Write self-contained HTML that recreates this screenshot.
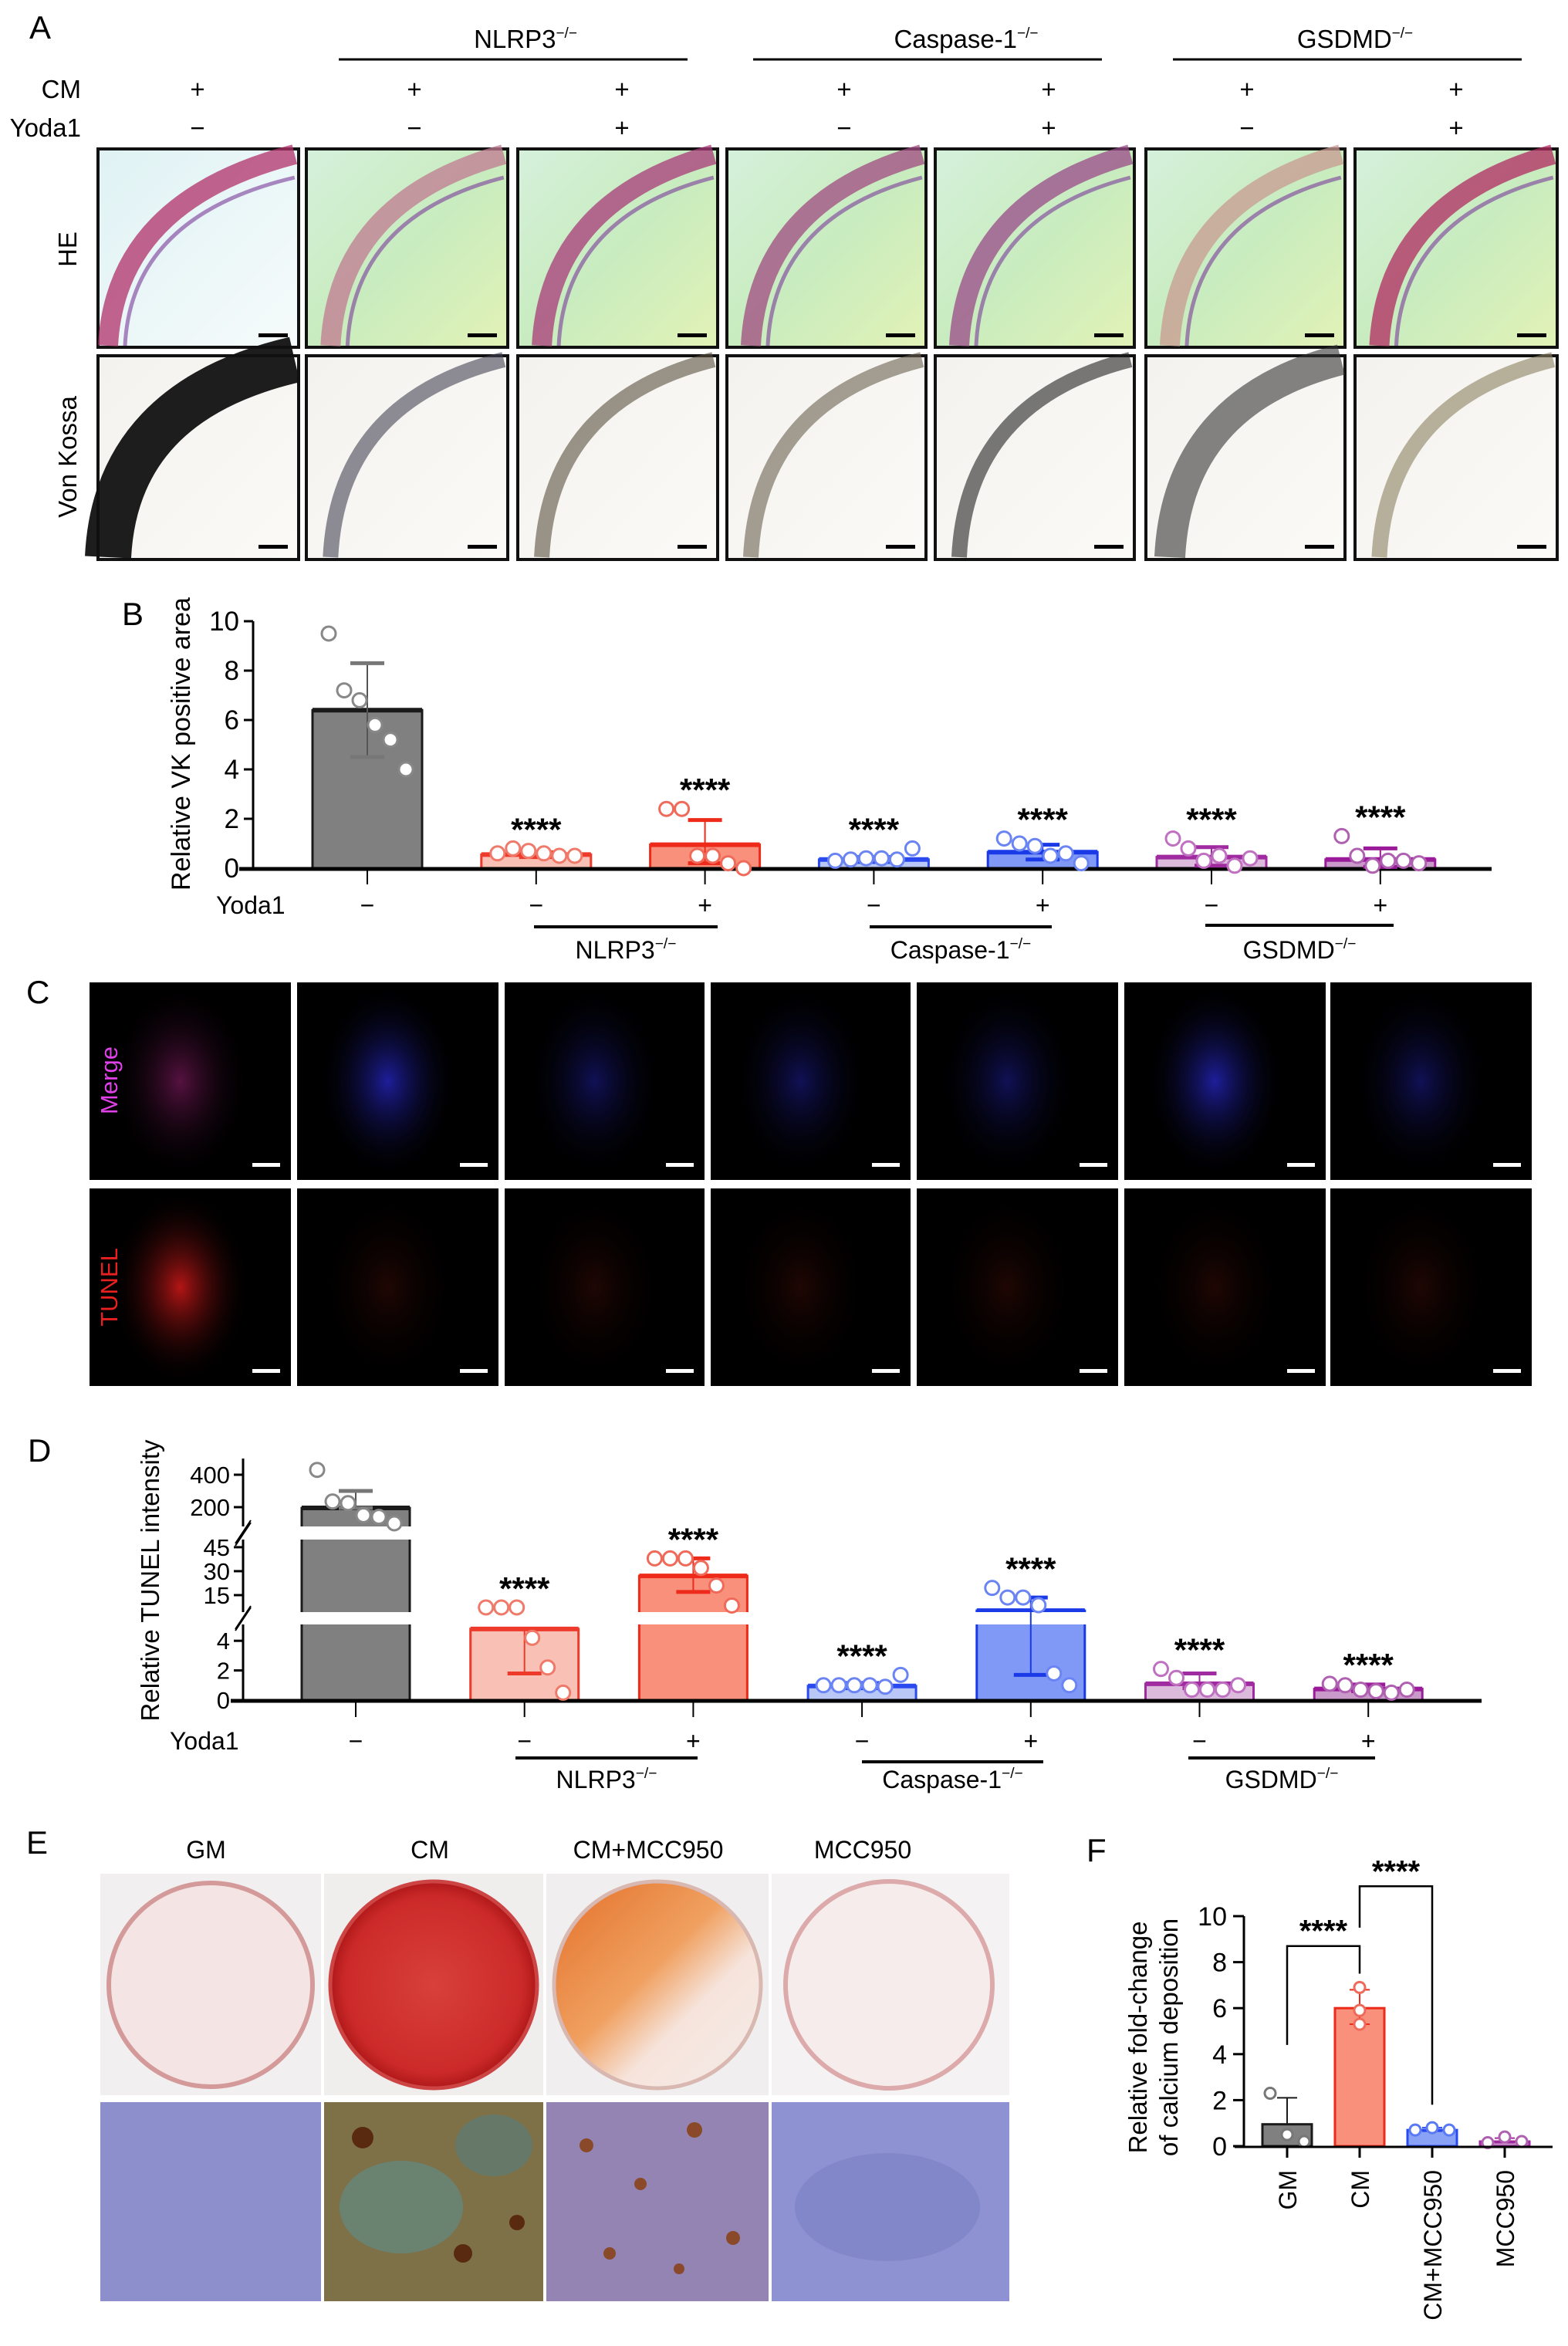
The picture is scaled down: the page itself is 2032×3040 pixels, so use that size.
<!DOCTYPE html>
<html><head><meta charset="utf-8"><title>Figure</title>
<style>
html,body{margin:0;padding:0;background:#fff;}
svg{display:block;font-family:"Liberation Sans",Arial,sans-serif;}
</style></head>
<body>
<svg id="fig" width="2032" height="3040" viewBox="0 0 2032 3040" xmlns="http://www.w3.org/2000/svg">
<defs>
  <linearGradient id="heBg" x1="0" y1="0" x2="1" y2="1">
    <stop offset="0" stop-color="#d6f0dc"/><stop offset="0.5" stop-color="#c8ecbf"/><stop offset="1" stop-color="#e2f2b6"/>
  </linearGradient>
  <linearGradient id="heBg1" x1="0" y1="0" x2="1" y2="1">
    <stop offset="0" stop-color="#dff2f4"/><stop offset="1" stop-color="#f6fbfb"/>
  </linearGradient>
  <linearGradient id="vkBg" x1="0" y1="0" x2="1" y2="1">
    <stop offset="0" stop-color="#f4f2ee"/><stop offset="1" stop-color="#fbfaf6"/>
  </linearGradient>
  <radialGradient id="blueGlow" cx="0.5" cy="0.5" r="0.5">
    <stop offset="0" stop-color="#2a2ad8" stop-opacity="0.8"/><stop offset="1" stop-color="#000" stop-opacity="0"/>
  </radialGradient>
  <radialGradient id="magGlow" cx="0.5" cy="0.5" r="0.5">
    <stop offset="0" stop-color="#c02890" stop-opacity="0.9"/><stop offset="1" stop-color="#000" stop-opacity="0"/>
  </radialGradient>
  <radialGradient id="redGlow" cx="0.5" cy="0.5" r="0.5">
    <stop offset="0" stop-color="#c81818" stop-opacity="0.9"/><stop offset="1" stop-color="#000" stop-opacity="0"/>
  </radialGradient>
  <radialGradient id="dimRed" cx="0.5" cy="0.5" r="0.5">
    <stop offset="0" stop-color="#4a1008" stop-opacity="0.7"/><stop offset="1" stop-color="#000" stop-opacity="0"/>
  </radialGradient>
  <radialGradient id="dishRed" cx="0.5" cy="0.5" r="0.5">
    <stop offset="0" stop-color="#d8403a"/><stop offset="0.85" stop-color="#cc2a2a"/><stop offset="1" stop-color="#b01818"/>
  </radialGradient>
  <linearGradient id="dishOr" x1="0" y1="0" x2="1" y2="1">
    <stop offset="0" stop-color="#e4702a"/><stop offset="0.45" stop-color="#f0a060"/><stop offset="0.65" stop-color="#f6e4dc"/><stop offset="1" stop-color="#f4ece8"/>
  </linearGradient>
</defs>

<!-- ================= PANEL A ================= -->
<g>
  <text x="38" y="50" font-size="42">A</text>
  <g font-size="33" text-anchor="middle">
    <text x="681" y="62">NLRP3<tspan font-size="19" dy="-13">−/−</tspan></text>
    <line x1="439" y1="77" x2="891" y2="77" stroke="#000" stroke-width="3"/>
    <text x="1252" y="62">Caspase-1<tspan font-size="19" dy="-13">−/−</tspan></text>
    <line x1="976" y1="77" x2="1428" y2="77" stroke="#000" stroke-width="3"/>
    <text x="1756" y="62">GSDMD<tspan font-size="19" dy="-13">−/−</tspan></text>
    <line x1="1520" y1="77" x2="1972" y2="77" stroke="#000" stroke-width="3"/>
  </g>
  <g font-size="33">
    <text x="105" y="127" text-anchor="end">CM</text>
    <text x="105" y="177" text-anchor="end">Yoda1</text>
  </g>
  <g id="aSigns" font-size="33" text-anchor="middle"></g>
  <text transform="translate(99,323) rotate(-90)" font-size="33" text-anchor="middle">HE</text>
  <text transform="translate(99,592) rotate(-90)" font-size="33" text-anchor="middle">Von Kossa</text>
  <g id="aImgs"></g>
</g>

<!-- ================= PANEL B ================= -->
<g>
  <text x="158" y="810" font-size="42">B</text>
  <text transform="translate(246,964) rotate(-90)" font-size="34" text-anchor="middle">Relative VK positive area</text>
  <g id="bChart"></g>
</g>

<!-- ================= PANEL C ================= -->
<g>
  <text x="34" y="1300" font-size="42">C</text>
  <g id="cImgs"></g>
</g>

<!-- ================= PANEL D ================= -->
<g>
  <text x="36" y="1894" font-size="42">D</text>
  <text transform="translate(206,2048) rotate(-90)" font-size="33" text-anchor="middle">Relative TUNEL intensity</text>
  <g id="dChart"></g>
</g>

<!-- ================= PANEL E ================= -->
<g>
  <text x="34" y="2402" font-size="42">E</text>
  <g font-size="32" text-anchor="middle">
    <text x="267" y="2408">GM</text>
    <text x="557" y="2408">CM</text>
    <text x="840" y="2408">CM+MCC950</text>
    <text x="1118" y="2408">MCC950</text>
  </g>
  <g>
    <rect x="130" y="2428" width="286" height="287" fill="#f1efef"/>
    <circle cx="273" cy="2572" r="132" fill="#f4e4e4" stroke="#d49a9a" stroke-width="6"/>
    <rect x="420" y="2428" width="284" height="287" fill="#f0eded"/>
    <circle cx="562" cy="2572" r="134" fill="url(#dishRed)" stroke="#c44" stroke-width="5"/>
    <rect x="708" y="2428" width="288" height="287" fill="#f0eeee"/>
    <circle cx="852" cy="2572" r="134" fill="url(#dishOr)" stroke="#d8b8b0" stroke-width="5"/>
    <rect x="1000" y="2428" width="308" height="287" fill="#f4f2f2"/>
    <circle cx="1152" cy="2572" r="134" fill="#f6ecec" stroke="#dcaaaa" stroke-width="6"/>
  </g>
  <g>
    <rect x="130" y="2724" width="286" height="258" fill="#8c8fcc"/>
    <rect x="420" y="2724" width="284" height="258" fill="#7e7148"/>
    <ellipse cx="520" cy="2860" rx="80" ry="60" fill="#5c8f8c" opacity="0.6"/>
    <ellipse cx="640" cy="2780" rx="50" ry="40" fill="#4e7f86" opacity="0.5"/>
    <circle cx="470" cy="2770" r="14" fill="#5a2a10"/><circle cx="600" cy="2920" r="12" fill="#5a2a10"/><circle cx="670" cy="2880" r="10" fill="#5a2a10"/>
    <rect x="708" y="2724" width="288" height="258" fill="#9484b4"/>
    <circle cx="760" cy="2780" r="9" fill="#8a4a2a"/><circle cx="830" cy="2830" r="8" fill="#8a4a2a"/><circle cx="900" cy="2760" r="10" fill="#8a4a2a"/><circle cx="950" cy="2900" r="9" fill="#8a4a2a"/><circle cx="790" cy="2920" r="8" fill="#8a4a2a"/><circle cx="880" cy="2940" r="7" fill="#8a4a2a"/>
    <rect x="1000" y="2724" width="308" height="258" fill="#8e92d2"/>
    <ellipse cx="1150" cy="2860" rx="120" ry="70" fill="#7a80c4" opacity="0.6"/>
  </g>
</g>

<!-- ================= PANEL F ================= -->
<g>
  <text x="1408" y="2412" font-size="42">F</text>
  <text transform="translate(1486,2640) rotate(-90)" font-size="33" text-anchor="middle">Relative fold-change</text>
  <text transform="translate(1526,2640) rotate(-90)" font-size="33" text-anchor="middle">of calcium deposition</text>
  <g id="fChart"></g>
</g>
</svg>

<script>
// ---------- chart data (B) ----------
const bCategories = ['WT', 'NLRP3 -', 'NLRP3 +', 'Caspase-1 -', 'Caspase-1 +', 'GSDMD -', 'GSDMD +'];
const bYoda = ['−', '−', '+', '−', '+', '−', '+'];
const bMeans = [6.4, 0.55, 0.95, 0.35, 0.65, 0.45, 0.35];
const bErrLow = [4.5, 0.45, 0.2, 0.25, 0.35, 0.1, 0.05];
const bErrHigh = [8.3, 0.65, 1.95, 0.45, 0.95, 0.85, 0.8];
const bPoints = [
  [9.5, 7.2, 6.8, 5.8, 5.2, 4.0],
  [0.6, 0.8, 0.7, 0.6, 0.5, 0.5],
  [2.4, 2.4, 0.5, 0.5, 0.2, 0.0],
  [0.3, 0.35, 0.4, 0.4, 0.35, 0.8],
  [1.2, 1.0, 0.9, 0.5, 0.6, 0.2],
  [1.2, 0.8, 0.3, 0.5, 0.1, 0.4],
  [1.3, 0.5, 0.1, 0.3, 0.3, 0.2]
];
const bStars = ['', '****', '****', '****', '****', '****', '****'];
const bTicks = [0, 2, 4, 6, 8, 10];

// ---------- chart data (D) ----------
const dCategories = ['WT', 'NLRP3 -', 'NLRP3 +', 'Caspase-1 -', 'Caspase-1 +', 'GSDMD -', 'GSDMD +'];
const dYoda = ['−', '−', '+', '−', '+', '−', '+'];
const dMeans = [195, 4.8, 27, 0.95, 5.3, 1.1, 0.75];
const dErrLow = [195, 1.8, 17, 0.8, 1.7, 0.8, 0.6];
const dErrHigh = [300, 4.8, 38, 1.15, 13.5, 1.8, 1.05];
const dPoints = [
  [430, 235, 225, 150, 140, 100],
  [7.3, 7.3, 7.3, 4.2, 2.2, 0.5],
  [38, 38, 38, 32, 21, 8.5],
  [1.0, 1.0, 1.0, 1.0, 0.9, 1.7],
  [19.5, 13.5, 13.5, 8.7, 1.8, 1.0],
  [2.1, 1.5, 0.7, 0.7, 0.7, 1.0],
  [1.1, 1.0, 0.7, 0.6, 0.5, 0.7]
];
const dStars = ['', '****', '****', '****', '****', '****', '****'];
const dTickValues = [0, 2, 4, 15, 30, 45, 200, 400];

// ---------- chart data (F) ----------
const fCategories = ['GM', 'CM', 'CM+MCC950', 'MCC950'];
const fMeans = [0.95, 6.0, 0.7, 0.2];
const fErrLow = [0.95, 5.3, 0.65, 0.15];
const fErrHigh = [2.1, 6.8, 0.8, 0.35];
const fPoints = [[2.3, 0.5, 0.2], [6.9, 5.9, 5.3], [0.7, 0.8, 0.7], [0.15, 0.4, 0.2]];
const fTicks = [0, 2, 4, 6, 8, 10];
const fBracketLevels = [8.7, 11.3];

const NS = 'http://www.w3.org/2000/svg';
function mk(tag, attrs, parent) {
  const e = document.createElementNS(NS, tag);
  for (const k in attrs) e.setAttribute(k, attrs[k]);
  parent.appendChild(e);
  return e;
}
const fills = ['#808080', '#f9c0b5', '#f8907c', '#b8c7f6', '#8099f6', '#dcbadc', '#c99ac9'];
const strokes = ['#1a1a1a', '#ee3a2a', '#ee2a1a', '#2a4af0', '#1a3ae8', '#a02aa0', '#9a1a9a'];
const ptStroke = ['#888', '#f07a6a', '#f06a5a', '#6a84f4', '#6a84f4', '#c070c0', '#b060b0'];

// ---------- Panel A signs & images ----------
(function () {
  const g = document.getElementById('aSigns');
  const cmX = [256, 537, 806, 1094, 1359, 1616, 1887];
  const yodaA = ['−', '−', '+', '−', '+', '−', '+'];
  cmX.forEach((x, i) => {
    const t1 = mk('text', { x: x, y: 127 }, g);
    
    
    t1.textContent = '+';
    const t2 = mk('text', { x: x, y: 177 }, g);
    
    
    t2.textContent = yodaA[i];
  });
  const imgs = document.getElementById('aImgs');
  const cols = [[127, 387], [397, 658], [671, 930], [942, 1200], [1212, 1470], [1485, 1743], [1756, 2018]];
  const heStroke = ['#b0306a', '#c07a90', '#a83a78', '#a04a80', '#9a4a88', '#c89a90', '#b02a60'];
  const vkStroke = ['#111', '#445', '#5a5040', '#6a6050', '#222', '#333', '#8a8060'];
  cols.forEach((c, i) => {
    const w = c[1] - c[0];
    const he = mk('rect', { x: c[0], y: 193, width: w, height: 257, fill: i === 0 ? 'url(#heBg1)' : 'url(#heBg)', stroke: '#111', 'stroke-width': 4 }, imgs);
    
    
    const x0 = c[0] + w * (i === 0 ? 0.05 : 0.12), x1 = c[0] + w * 0.98;
    mk('path', { d: `M${x0} 448 Q${x0 + 10} 260 ${x1} 200`, fill: 'none', stroke: heStroke[i], 'stroke-width': 26, opacity: 0.75 }, imgs);
    mk('path', { d: `M${x0 + 22} 448 Q${x0 + 30} 280 ${x1} 230`, fill: 'none', stroke: '#7a3a9a', 'stroke-width': 5, opacity: 0.6 }, imgs);
    mk('rect', { x: c[1] - 52, y: 432, width: 38, height: 5, fill: '#000' }, imgs);
    const vk = mk('rect', { x: c[0], y: 461, width: w, height: 264, fill: 'url(#vkBg)', stroke: '#111', 'stroke-width': 4 }, imgs);
    
    
    mk('path', { d: `M${x0} 722 Q${x0 + 10} 520 ${x1} 466`, fill: 'none', stroke: vkStroke[i], 'stroke-width': i === 0 ? 60 : (i === 5 ? 40 : 20), opacity: i === 0 ? 0.95 : 0.6 }, imgs);
    mk('rect', { x: c[1] - 52, y: 706, width: 38, height: 5, fill: '#000' }, imgs);
  });
})();

// ---------- Panel C images ----------
(function () {
  const g = document.getElementById('cImgs');
  const cols = [[116, 377], [385, 646], [654, 913], [921, 1180], [1188, 1449], [1457, 1718], [1724, 1985]];
  cols.forEach((c, i) => {
    const w = c[1] - c[0];
    [[1273, 256], [1540, 256]].forEach((r, j) => {
      const im = mk('rect', { x: c[0], y: r[0], width: w, height: r[1], fill: '#000' }, g);
      
      
      let glow = j === 0 ? (i === 0 ? 'url(#magGlow)' : 'url(#blueGlow)') : (i === 0 ? 'url(#redGlow)' : 'url(#dimRed)');
      const op = j === 0 ? (i === 1 || i === 5 ? 0.9 : 0.5) : (i === 0 ? 1 : 0.6);
      mk('ellipse', { cx: c[0] + w * 0.45, cy: r[0] + r[1] * 0.5, rx: w * 0.35, ry: r[1] * 0.5, fill: glow, opacity: op }, g);
      mk('rect', { x: c[1] - 50, y: r[0] + r[1] - 22, width: 36, height: 5, fill: '#fff' }, g);
    });
  });
  const m = mk('text', { transform: 'translate(152,1400) rotate(-90)', 'font-size': 31, 'text-anchor': 'middle', fill: '#e040e8' }, g);
  
  
  m.textContent = 'Merge';
  const t = mk('text', { transform: 'translate(152,1668) rotate(-90)', 'font-size': 31, 'text-anchor': 'middle', fill: '#e82020' }, g);
  
  
  t.textContent = 'TUNEL';
})();

// ---------- generic bar drawing ----------
function drawBars(g, centers, barW, yS, y0, means, prefix) {
  centers.forEach((cx, i) => {
    const yt = yS(means[i]);
    const bar = mk('rect', { x: cx - barW / 2, y: yt, width: barW, height: y0 - yt, fill: fills[i], stroke: strokes[i], 'stroke-width': 3 }, g);
    
    
    mk('line', { x1: cx - barW / 2, x2: cx + barW / 2, y1: yt, y2: yt, stroke: strokes[i], 'stroke-width': 6 }, g);
  });
}
function drawErrPts(g, centers, yS, lo, hi, pts, stars, prefix, capW, ptR, spread, starFont) {
  centers.forEach((cx, i) => {
    const eb = mk('line', { x1: cx, x2: cx, y1: yS(lo[i]), y2: yS(hi[i]), stroke: i === 0 ? '#555' : strokes[i], 'stroke-width': 2 }, g);
    
    
    [lo[i], hi[i]].forEach(v => mk('line', { x1: cx - capW / 2, x2: cx + capW / 2, y1: yS(v), y2: yS(v), stroke: i === 0 ? '#777' : strokes[i], 'stroke-width': 5 }, g));
    const n = pts[i].length;
    pts[i].forEach((v, k) => {
      const p = mk('circle', { cx: cx + (k - (n - 1) / 2) * spread, cy: yS(v), r: ptR, fill: '#fff', stroke: ptStroke[i], 'stroke-width': 3 }, g);
      
      
    });
    if (stars && stars[i]) {
      const top = Math.min(yS(hi[i]), ...pts[i].map(yS));
      const s = mk('text', { x: cx, y: top - 10, 'font-size': starFont, 'font-weight': 'bold', 'text-anchor': 'middle' }, g);
      
      
      s.textContent = stars[i];
    }
  });
}
function groupLabels(g, items, fs) {
  items.forEach(it => {
    mk('line', { x1: it[0], x2: it[1], y1: it[2], y2: it[2], stroke: '#000', 'stroke-width': 4 }, g);
    const t = mk('text', { x: (it[0] + it[1]) / 2, y: it[3], 'font-size': fs, 'text-anchor': 'middle' }, g);
    
    
    t.textContent = it[4];
    const sp = mk('tspan', { 'font-size': fs * 0.6, dy: -13 }, t);
    sp.textContent = '−/−';
  });
}

// ---------- Panel B ----------
(function () {
  const g = document.getElementById('bChart');
  const yS = v => 1125 - v * 32;
  const xs = bCategories.map((c, i) => 476 + i * 218.8);
  const ax = mk('line', { x1: 328, x2: 328, y1: yS(10), y2: 1127, stroke: '#000', 'stroke-width': 3 }, g);
  
  
  bTicks.forEach(v => {
    mk('line', { x1: 316, x2: 328, y1: yS(v), y2: yS(v), stroke: '#000', 'stroke-width': 3 }, g);
    const t = mk('text', { x: 310, y: yS(v) + 12, 'font-size': 35, 'text-anchor': 'end' }, g);
    
    
    t.textContent = v;
  });
  drawBars(g, xs, 142, yS, 1125, bMeans, 'b');
  const xa = mk('line', { x1: 310, x2: 1933, y1: 1126, y2: 1126, stroke: '#000', 'stroke-width': 5 }, g);
  
  
  drawErrPts(g, xs, yS, bErrLow, bErrHigh, bPoints, bStars, 'b', 44, 9, 20, 42);
  xs.forEach((x, i) => {
    mk('line', { x1: x, x2: x, y1: 1126, y2: 1146, stroke: '#000', 'stroke-width': 2 }, g);
    const t = mk('text', { x: x, y: 1184, 'font-size': 32, 'text-anchor': 'middle' }, g);
    
    
    t.textContent = bYoda[i];
  });
  const yl = mk('text', { x: 280, y: 1184, 'font-size': 32 }, g);
  
  
  yl.textContent = 'Yoda1';
  groupLabels(g, [[692, 930, 1201, 1242, 'NLRP3'], [1127, 1363, 1201, 1242, 'Caspase-1'], [1562, 1806, 1199, 1242, 'GSDMD']], 32);
})();

// ---------- Panel D ----------
(function () {
  const g = document.getElementById('dChart');
  const yS = v => v <= 5.2 ? 2203 - v * 19.2 : (v <= 50 ? 2067 - (v - 15) * 2.07 : 1953 - (v - 200) * 0.21);
  const xs = dCategories.map((c, i) => 461 + i * 218.7);
  drawBars(g, xs, 140, yS, 2203, dMeans, 'd');
  [[2089, 2105], [1978, 1995]].forEach(gp => mk('rect', { x: 316, y: gp[0], width: 1610, height: gp[1] - gp[0], fill: '#fff' }, g));
  const axSegs = [[2203, 2105], [2089, 1995], [1978, 1890]];
  axSegs.forEach(s => {
    const a = mk('line', { x1: 315, x2: 315, y1: s[0], y2: s[1], stroke: '#000', 'stroke-width': 3 }, g);
    
    
  });
  [[2105, 2089], [1995, 1978]].forEach(b => {
    mk('line', { x1: 305, x2: 325, y1: b[0] + 8, y2: b[0] - 22, stroke: '#000', 'stroke-width': 2 }, g);
    mk('line', { x1: 305, x2: 325, y1: b[1] + 22, y2: b[1] - 8, stroke: '#000', 'stroke-width': 2 }, g);
  });
  dTickValues.forEach(v => {
    mk('line', { x1: 303, x2: 315, y1: yS(v), y2: yS(v), stroke: '#000', 'stroke-width': 3 }, g);
    const t = mk('text', { x: 298, y: yS(v) + 11, 'font-size': 31, 'text-anchor': 'end' }, g);
    
    
    t.textContent = v;
  });
  const xa = mk('line', { x1: 299, x2: 1920, y1: 2204, y2: 2204, stroke: '#000', 'stroke-width': 5 }, g);
  
  
  drawErrPts(g, xs, yS, dErrLow, dErrHigh, dPoints, dStars, 'd', 44, 9, 20, 42);
  xs.forEach((x, i) => {
    mk('line', { x1: x, x2: x, y1: 2204, y2: 2225, stroke: '#000', 'stroke-width': 2 }, g);
    const t = mk('text', { x: x, y: 2267, 'font-size': 32, 'text-anchor': 'middle' }, g);
    
    
    t.textContent = dYoda[i];
  });
  const yl = mk('text', { x: 220, y: 2267, 'font-size': 32 }, g);
  
  
  yl.textContent = 'Yoda1';
  groupLabels(g, [[668, 904, 2278, 2317, 'NLRP3'], [1117, 1352, 2283, 2317, 'Caspase-1'], [1540, 1782, 2278, 2317, 'GSDMD']], 32);
})();

// ---------- Panel F ----------
(function () {
  const g = document.getElementById('fChart');
  const yS = v => 2781 - v * 29.8;
  const xs = fCategories.map((c, i) => 1668 + i * 94);
  const fFill = ['#808080', '#f8907c', '#8aa2f6', '#c99ac9'];
  const fStroke = ['#1a1a1a', '#ee2a1a', '#2a4af0', '#a02aa0'];
  const fPt = ['#777', '#f06a5a', '#5a7af4', '#b060b0'];
  const ax = mk('line', { x1: 1612, x2: 1612, y1: yS(10), y2: 2782, stroke: '#000', 'stroke-width': 3 }, g);
  
  
  fTicks.forEach(v => {
    mk('line', { x1: 1598, x2: 1612, y1: yS(v), y2: yS(v), stroke: '#000', 'stroke-width': 3 }, g);
    const t = mk('text', { x: 1590, y: yS(v) + 12, 'font-size': 34, 'text-anchor': 'end' }, g);
    
    
    t.textContent = v;
  });
  xs.forEach((cx, i) => {
    const yt = yS(fMeans[i]);
    const b = mk('rect', { x: cx - 32, y: yt, width: 64, height: 2781 - yt, fill: fFill[i], stroke: fStroke[i], 'stroke-width': 3 }, g);
    
    
    mk('line', { x1: cx, x2: cx, y1: yS(fErrLow[i]), y2: yS(fErrHigh[i]), stroke: fStroke[i], 'stroke-width': 2 }, g);
    [fErrLow[i], fErrHigh[i]].forEach(v => mk('line', { x1: cx - 13, x2: cx + 13, y1: yS(v), y2: yS(v), stroke: fStroke[i], 'stroke-width': 2 }, g));
    fPoints[i].forEach((v, k) => {
      const p = mk('circle', { cx: cx + (k - 1) * 22 * (i === 1 ? 0 : 1), cy: yS(v), r: 7, fill: '#fff', stroke: fPt[i], 'stroke-width': 3 }, g);
      
      
    });
    mk('line', { x1: cx, x2: cx, y1: 2782, y2: 2796, stroke: '#000', 'stroke-width': 3 }, g);
    const t = mk('text', { transform: `translate(${cx + 12},2812) rotate(-90)`, 'font-size': 32, 'text-anchor': 'end' }, g);
    
    
    t.textContent = fCategories[i];
  });
  const xa = mk('line', { x1: 1600, x2: 2012, y1: 2782, y2: 2782, stroke: '#000', 'stroke-width': 3 }, g);
  
  
  const b1 = mk('path', { d: `M${xs[0]} ${yS(4.4)} V${yS(fBracketLevels[0])} H${xs[1]} V${yS(7.5)}`, fill: 'none', stroke: '#000', 'stroke-width': 2.5 }, g);
  
  
  const s1 = mk('text', { x: (xs[0] + xs[1]) / 2, y: yS(fBracketLevels[0]) - 6, 'font-size': 40, 'font-weight': 'bold', 'text-anchor': 'middle' }, g);
  
  
  s1.textContent = '****';
  const b2 = mk('path', { d: `M${xs[1]} ${yS(9.5)} V${yS(fBracketLevels[1])} H${xs[2]} V${yS(1.8)}`, fill: 'none', stroke: '#000', 'stroke-width': 2.5 }, g);
  
  
  const s2 = mk('text', { x: (xs[1] + xs[2]) / 2, y: yS(fBracketLevels[1]) - 6, 'font-size': 40, 'font-weight': 'bold', 'text-anchor': 'middle' }, g);
  
  
  s2.textContent = '****';
})();
</script>
</body></html>
